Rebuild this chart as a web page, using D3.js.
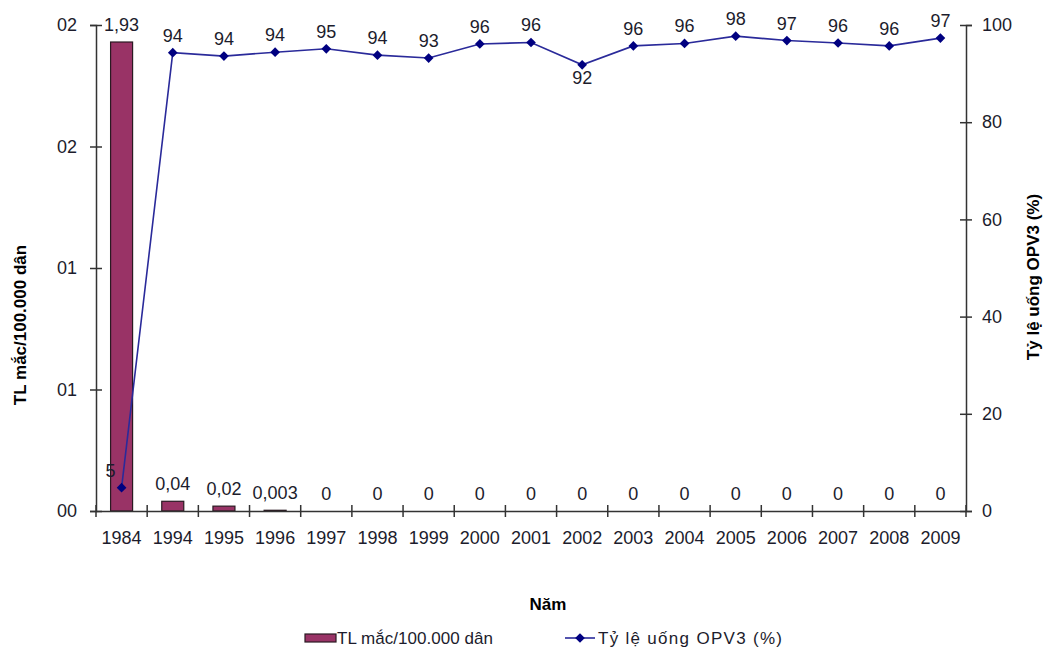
<!DOCTYPE html>
<html>
<head>
<meta charset="utf-8">
<script src="https://cdn.jsdelivr.net/npm/d3@7"></script>
<style>
  html, body { margin: 0; padding: 0; background: #fff; }
  svg { display: block; font-family: "Liberation Sans", Arial, sans-serif; }
</style>
</head>
<body>
<svg id="chart" width="1045" height="654"></svg>
<script>
// Polio incidence per 100,000 population and OPV3 coverage, by year
const years = ["1984", "1994", "1995", "1996", "1997", "1998", "1999", "2000", "2001",
               "2002", "2003", "2004", "2005", "2006", "2007", "2008", "2009"];
const incidence = [1.93, 0.04, 0.02, 0.003, 0, 0, 0, 0, 0, 0, 0, 0, 0, 0, 0, 0, 0];
const coverage = [4.8, 94.3, 93.6, 94.4, 95.1, 93.8, 93.2, 96.1, 96.4,
                  91.8, 95.7, 96.2, 97.7, 96.8, 96.3, 95.7, 97.3];
const leftTicks = [0, 0.5, 1, 1.5, 2];
const leftTickLabels = ["00", "01", "01", "02", "02"];
const rightTicks = [0, 20, 40, 60, 80, 100];

const svg = d3.select("#chart");
const plotLeft = 96, plotRight = 966, plotTop = 25, plotBottom = 511;
const textColor = "#1c1c2c";
const axisColor = "#333";
const labelSize = "18px";

const x = d3.scaleBand().domain(years).range([plotLeft, plotRight])
  .paddingInner(0.57).paddingOuter(0.285);
const step = x.step();
const yL = d3.scaleLinear().domain([0, 2]).range([plotBottom, plotTop]);
const yR = d3.scaleLinear().domain([0, 100]).range([plotBottom, plotTop]);

// Bars
svg.append("g").selectAll("rect").data(incidence).join("rect")
  .attr("x", (d, i) => x(years[i]))
  .attr("y", d => yL(d))
  .attr("width", x.bandwidth())
  .attr("height", d => plotBottom - yL(d))
  .attr("fill", "#993366")
  .attr("stroke", "#2a1a22")
  .attr("stroke-width", 1.2);

// Left axis
const gL = svg.append("g").attr("transform", `translate(${plotLeft},0)`)
  .call(d3.axisLeft(yL).tickValues(leftTicks)
    .tickFormat((d, i) => leftTickLabels[i]).tickSize(6).tickPadding(0));
gL.select(".domain").attr("stroke", axisColor).attr("stroke-width", 1.5);
gL.selectAll(".tick line").attr("x1", 6).attr("x2", -6).attr("stroke", axisColor).attr("stroke-width", 1.5);
gL.selectAll(".tick text").attr("x", -19).attr("fill", textColor)
  .style("font-size", labelSize).style("font-family", "Liberation Sans, Arial, sans-serif");

// Right axis
const gR = svg.append("g").attr("transform", `translate(${plotRight},0)`)
  .call(d3.axisRight(yR).tickValues(rightTicks).tickSize(6).tickPadding(0));
gR.select(".domain").attr("stroke", axisColor).attr("stroke-width", 1.5);
gR.selectAll(".tick line").attr("x1", -6).attr("x2", 6).attr("stroke", axisColor).attr("stroke-width", 1.5);
gR.selectAll(".tick text").attr("x", 16).attr("fill", textColor)
  .style("font-size", labelSize).style("font-family", "Liberation Sans, Arial, sans-serif");

// Bottom axis: category labels, ticks on band boundaries
const gB = svg.append("g").attr("transform", `translate(0,${plotBottom})`)
  .call(d3.axisBottom(x).tickSize(0).tickPadding(0));
gB.select(".domain").attr("stroke", axisColor).attr("stroke-width", 1.5);
gB.selectAll(".tick text").attr("y", 20).attr("fill", textColor)
  .style("font-size", labelSize).style("font-family", "Liberation Sans, Arial, sans-serif");
gB.selectAll("line.sep").data(d3.range(years.length + 1)).join("line")
  .attr("class", "sep")
  .attr("x1", i => plotLeft + i * step).attr("x2", i => plotLeft + i * step)
  .attr("y1", -6).attr("y2", 6)
  .attr("stroke", axisColor).attr("stroke-width", 1.5);

// Bar value labels
const fmtComma = v => String(v).replace(".", ",");
svg.append("g").selectAll("text").data(incidence).join("text")
  .attr("x", (d, i) => x(years[i]) + x.bandwidth() / 2)
  .attr("y", d => yL(d) - 11)
  .attr("text-anchor", "middle")
  .attr("fill", textColor)
  .style("font-size", labelSize)
  .text(fmtComma);

// Coverage line
const cx = (d, i) => x(years[i]) + x.bandwidth() / 2;
const line = d3.line().x((d, i) => cx(d, i)).y(d => yR(d));
svg.append("path").datum(coverage)
  .attr("d", line).attr("fill", "none")
  .attr("stroke", "#2a2a9a").attr("stroke-width", 1.6);
svg.append("g").selectAll("path").data(coverage).join("path")
  .attr("transform", (d, i) => `translate(${cx(d, i)},${yR(d)})`)
  .attr("d", d3.symbol(d3.symbolDiamond2, 60))
  .attr("fill", "#000080");

// Coverage value labels
svg.append("g").selectAll("text").data(coverage).join("text")
  .attr("x", (d, i) => i === 0 ? cx(d, i) - 11 : cx(d, i))
  .attr("y", (d, i) => {
    const prev = coverage[i - 1], next = coverage[i + 1];
    const dip = i > 0 && next !== undefined && d < prev - 1 && d < next - 1;
    return dip ? yR(d) + 19 : yR(d) - 11;
  })
  .attr("text-anchor", "middle")
  .attr("fill", textColor)
  .style("font-size", labelSize)
  .text(d => Math.round(d));

// Axis titles
svg.append("text")
  .attr("transform", "translate(26,325) rotate(-90)")
  .attr("text-anchor", "middle").attr("fill", "#000")
  .style("font-size", "17px").style("font-weight", "bold")
  .text("TL mắc/100.000 dân");
svg.append("text")
  .attr("transform", "translate(1039,277) rotate(-90)")
  .attr("text-anchor", "middle").attr("fill", "#000")
  .style("font-size", "17px").style("font-weight", "bold")
  .text("Tỷ lệ uống OPV3 (%)");
svg.append("text")
  .attr("x", 548).attr("y", 610)
  .attr("text-anchor", "middle").attr("fill", "#000")
  .style("font-size", "17px").style("font-weight", "bold")
  .text("Năm");

// Legend
const lg = svg.append("g").attr("transform", "translate(0,638)");
lg.append("rect").attr("x", 305).attr("y", -4).attr("width", 31).attr("height", 8)
  .attr("fill", "#993366").attr("stroke", "#2a1a22").attr("stroke-width", 1.2);
lg.append("text").attr("x", 337).attr("y", 6).attr("fill", textColor)
  .style("font-size", "17px")
  .attr("textLength", 156).attr("lengthAdjust", "spacing")
  .text("TL mắc/100.000 dân");
lg.append("line").attr("x1", 565).attr("x2", 595).attr("y1", 0).attr("y2", 0)
  .attr("stroke", "#2a2a9a").attr("stroke-width", 1.6);
lg.append("path").attr("transform", "translate(580,0)")
  .attr("d", d3.symbol(d3.symbolDiamond2, 60)).attr("fill", "#000080");
lg.append("text").attr("x", 598).attr("y", 6).attr("fill", textColor)
  .style("font-size", "17px")
  .attr("textLength", 184).attr("lengthAdjust", "spacing")
  .text("Tỷ lệ uống OPV3 (%)");
</script>
</body>
</html>
